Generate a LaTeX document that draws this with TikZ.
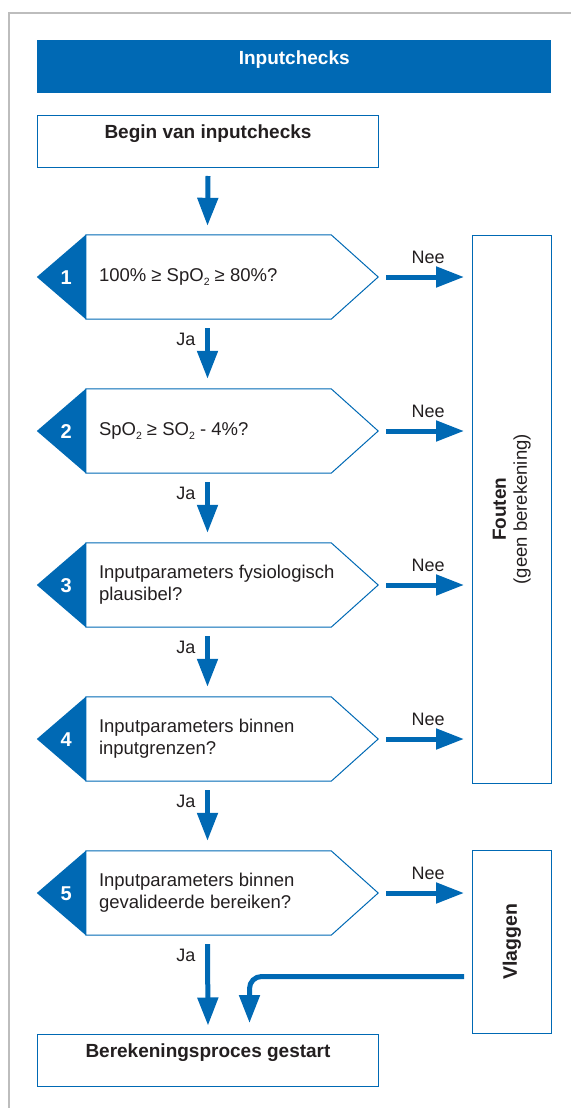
\documentclass[tikz,border=0pt]{standalone}
\usepackage{fontspec}
\setmainfont{Liberation Sans}
\usetikzlibrary{arrows.meta}

\definecolor{rblue}{HTML}{0069B4}
\definecolor{ink}{HTML}{231F20}
\definecolor{framegray}{HTML}{BDBDBD}

% subscript two, set small and lowered
\newcommand\subtwo{\raisebox{-3.5pt}{\fontsize{10.5pt}{10pt}\selectfont 2}}

% decision step: blue number tab on the left, white arrow-shaped body
\newcommand\Decision[4]{%
  \node[dbox] (#1) at (207.5,-#2) {};
  \fill[rblue] (#1.west) -- ([xshift=49pt]#1.north west) -- ([xshift=49pt]#1.south west) -- cycle;
  \draw[rblue, line width=1pt, line join=miter]
    ([xshift=49pt]#1.north west) -- ([xshift=-47pt]#1.north east) -- (#1.east)
    -- ([xshift=-47pt]#1.south east) -- ([xshift=49pt]#1.south west) -- cycle;
  \node[num] at ([xshift=29.5pt,yshift=-1pt]#1.west) {#3};
  \node[qtext] at ([xshift=62pt]#1.west) {#4};
}

\begin{document}
\begin{tikzpicture}[x=1pt,y=1pt,
  every node/.style={text=ink, font=\fontsize{18pt}{22pt}\selectfont},
  box/.style={draw=rblue, line width=1pt, fill=white, inner sep=0pt, anchor=north west},
  title/.style={anchor=base, font=\bfseries\fontsize{19pt}{22pt}\selectfont},
  dbox/.style={minimum width=341pt, minimum height=84pt, inner sep=0pt},
  num/.style={text=white, font=\bfseries\fontsize{20pt}{22pt}\selectfont},
  qtext/.style={anchor=west, align=left, inner sep=0pt, font=\fontsize{18.5pt}{22pt}\selectfont},
  flow/.style={rblue, line width=5pt, -{Triangle[width=20pt,length=28pt]}},
]
\useasboundingbox (0,0) rectangle (571,-1108);

% page frame
\draw[framegray, line width=1.5pt] (9,-1108) -- (9,-13) -- (571,-13);

% header band
\node[fill=rblue, minimum width=514pt, minimum height=53pt, inner sep=0pt, anchor=north west] (head) at (37,-40) {};
\node[title, text=white] at ([yshift=-24pt]head.north) {Inputchecks};

% start box
\node[box, minimum width=341pt, minimum height=52pt] (begin) at (37,-115) {};
\node[title] at ([yshift=-23pt]begin.north) {Begin van inputchecks};

% outcome boxes
\node[box, minimum width=79.5pt, minimum height=548.5pt] (fouten) at (471.5,-234.5) {};
\node[rotate=90, align=center, font=\fontsize{18.5pt}{21pt}\selectfont] at (fouten.center)
  {{\bfseries\fontsize{19pt}{21pt}\selectfont Fouten}\\(geen berekening)};

\node[box, minimum width=79.5pt, minimum height=183pt] (vlag) at (471.5,-850) {};
\node[rotate=90, font=\bfseries\fontsize{19.5pt}{22pt}\selectfont] at (vlag.center) {Vlaggen};

% end box
\node[box, minimum width=341pt, minimum height=52pt] (endb) at (37,-1034) {};
\node[title] at ([yshift=-23pt]endb.north) {Berekeningsproces gestart};

% decision steps
\Decision{d1}{277}{1}{100\% ≥ SpO\subtwo{} ≥ 80\%?}
\Decision{d2}{431}{2}{SpO\subtwo{} ≥ SO\subtwo{} - 4\%?}
\Decision{d3}{585}{3}{Inputparameters fysiologisch\\plausibel?}
\Decision{d4}{739}{4}{Inputparameters binnen\\inputgrenzen?}
\Decision{d5}{893}{5}{Inputparameters binnen\\gevalideerde bereiken?}

% main flow downwards
\draw[flow] ([yshift=-8pt]begin.south) -- ([yshift=9pt]d1.north);
\draw[flow] ([yshift=-9pt]d1.south) -- ([yshift=10pt]d2.north);
\draw[flow] ([yshift=-9pt]d2.south) -- ([yshift=10pt]d3.north);
\draw[flow] ([yshift=-9pt]d3.south) -- ([yshift=10pt]d4.north);
\draw[flow] ([yshift=-9pt]d4.south) -- ([yshift=10pt]d5.north);
\draw[flow] ([yshift=-9pt]d5.south) -- ([yshift=8.5pt]endb.north);

\foreach \d in {d1,d2,d3,d4,d5}
  \node at ([xshift=-21.5pt,yshift=-20pt]\d.south) {Ja};

% failed checks
\foreach \d in {d1,d2,d3,d4} {
  \draw[flow, shorten <=8pt, shorten >=7.5pt] (\d.east) -- (fouten.west |- \d.east);
  \node at ([xshift=50pt,yshift=20pt]\d.east) {Nee};
}
\draw[flow, shorten <=8pt, shorten >=7.5pt] (d5.east) -- (vlag.west |- d5.east);
\node at ([xshift=50pt,yshift=20pt]d5.east) {Nee};

% flagged results continue to the calculation
\draw[flow, rounded corners=12pt]
  ([xshift=-7.5pt,yshift=-34.5pt]vlag.west) -| ([xshift=41.5pt,yshift=11pt]endb.north);
\end{tikzpicture}
\end{document}
